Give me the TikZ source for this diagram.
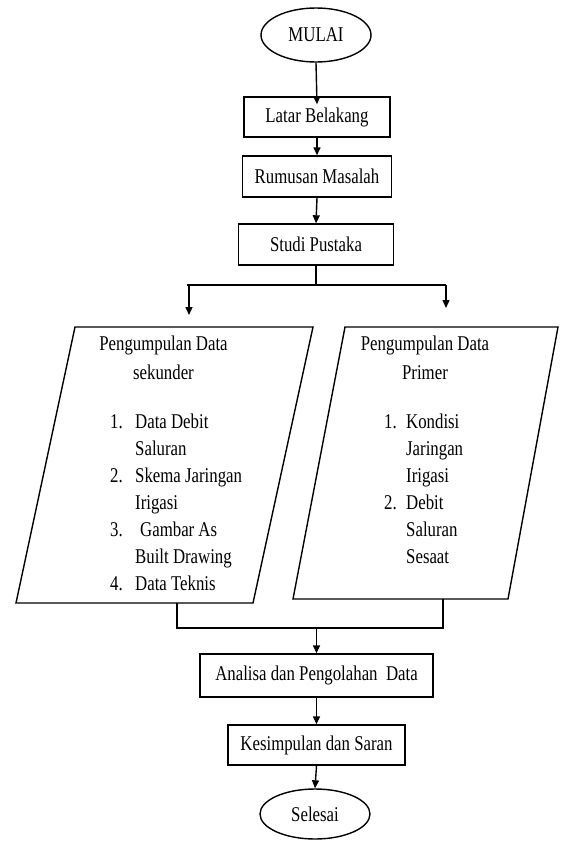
\documentclass[tikz,border=0pt]{standalone}
\usepackage{fontspec}
\setmainfont[FakeStretch=0.8]{Liberation Serif}
\usetikzlibrary{shapes.geometric,arrows.meta}
\tikzset{
  txt/.style={font=\fontsize{21}{24}\selectfont, inner sep=0pt},
  procbox/.style={draw, line width=1.4pt, rectangle, txt},
  termin/.style={draw, line width=1.4pt, ellipse, txt},
  conn/.style={line width=1.4pt},
  arr/.style={line width=1.4pt, -{Triangle[length=8pt,width=7pt]}},
  shapeline/.style={draw, line width=1.4pt, line join=miter},
}
\begin{document}
\begin{tikzpicture}[x=1pt,y=-1pt]
\useasboundingbox (0,0) rectangle (560,841);
% terminals and boxes
\node[termin, minimum width=110pt, minimum height=54pt] (mulai) at (316,35) {MULAI};
\node[procbox, minimum width=146pt, minimum height=40pt] (latar) at (317,117) {Latar Belakang};
\node[procbox, minimum width=149pt, minimum height=41pt] (rumusan) at (317,176.5) {Rumusan Masalah};
\node[procbox, minimum width=155pt, minimum height=41pt] (studi) at (316,244.5) {Studi Pustaka};
\node[procbox, minimum width=233pt, minimum height=43pt] (analisa) at (316.5,675.5) {Analisa dan Pengolahan\ \ Data};
\node[procbox, minimum width=177pt, minimum height=40pt] (kesimpulan) at (316.5,745) {Kesimpulan dan Saran};
\node[termin, minimum width=110pt, minimum height=50pt] (selesai) at (315,814) {Selesai};

% data shapes (parallelograms)
\coordinate (ltl) at (75,327); \coordinate (ltr) at (313,327);
\coordinate (lbr) at (253,603); \coordinate (lbl) at (16,603);
\draw[shapeline] (ltl) -- (ltr) -- (lbr) -- (lbl) -- cycle;
\coordinate (rtl) at (345,327); \coordinate (rtr) at (558,327);
\coordinate (rbr) at (508,599); \coordinate (rbl) at (293,599);
\draw[shapeline] (rtl) -- (rtr) -- (rbr) -- (rbl) -- cycle;

% left text
\node[txt, anchor=base] (lt1) at (163.5,350) {Pengumpulan Data};
\node[txt, anchor=base] (lt2) at (163.5,379) {sekunder};
\node[txt, anchor=base west] (ln1) at (110,428) {1.};
\node[txt, anchor=base west] (li1a) at (135,428) {Data Debit};
\node[txt, anchor=base west] (li1b) at (135,455) {Saluran};
\node[txt, anchor=base west] (ln2) at (110,482) {2.};
\node[txt, anchor=base west] (li2a) at (135,482) {Skema Jaringan};
\node[txt, anchor=base west] (li2b) at (135,509) {Irigasi};
\node[txt, anchor=base west] (ln3) at (110,536) {3.};
\node[txt, anchor=base west] (li3a) at (140,536) {Gambar As};
\node[txt, anchor=base west] (li3b) at (135,563) {Built Drawing};
\node[txt, anchor=base west] (ln4) at (110,590) {4.};
\node[txt, anchor=base west] (li4a) at (135,590) {Data Teknis};

% right text
\node[txt, anchor=base] (rt1) at (425,350) {Pengumpulan Data};
\node[txt, anchor=base] (rt2) at (425,379) {Primer};
\node[txt, anchor=base west] (rn1) at (384,428) {1.};
\node[txt, anchor=base west] (ri1a) at (406,428) {Kondisi};
\node[txt, anchor=base west] (ri1b) at (406,455) {Jaringan};
\node[txt, anchor=base west] (ri1c) at (406,482) {Irigasi};
\node[txt, anchor=base west] (rn2) at (384,509) {2.};
\node[txt, anchor=base west] (ri2a) at (406,509) {Debit};
\node[txt, anchor=base west] (ri2b) at (406,536) {Saluran};
\node[txt, anchor=base west] (ri2c) at (406,563) {Sesaat};

% connectors
\draw[arr] (mulai.south) -- ([yshift=-8pt]latar.north);
\draw[arr] (latar.south) -- (rumusan.north);
\draw[arr] (rumusan.south) -- (studi.north);

\coordinate (sl) at (187,285);
\coordinate (sr) at (446,285);
\coordinate (alend) at (189,315);
\coordinate (arend) at (446,308);
\draw[conn] (studi.south) -- (studi.south |- sl);
\draw[conn] (sl) -- (sr);
\draw[arr] (sl -| alend) -- (alend);
\draw[arr] (sr) -- (arend);

\coordinate (jl) at (177,628);
\coordinate (jr) at (443,628);
\draw[conn] (jl |- lbl) -- (jl) -- (jr) -- (jr |- rbl);
\draw[arr] (analisa.north |- jl) -- (analisa.north);
\draw[arr] (analisa.south) -- (kesimpulan.north);
\draw[arr] (kesimpulan.south) -- (selesai.north);
\end{tikzpicture}
\end{document}
